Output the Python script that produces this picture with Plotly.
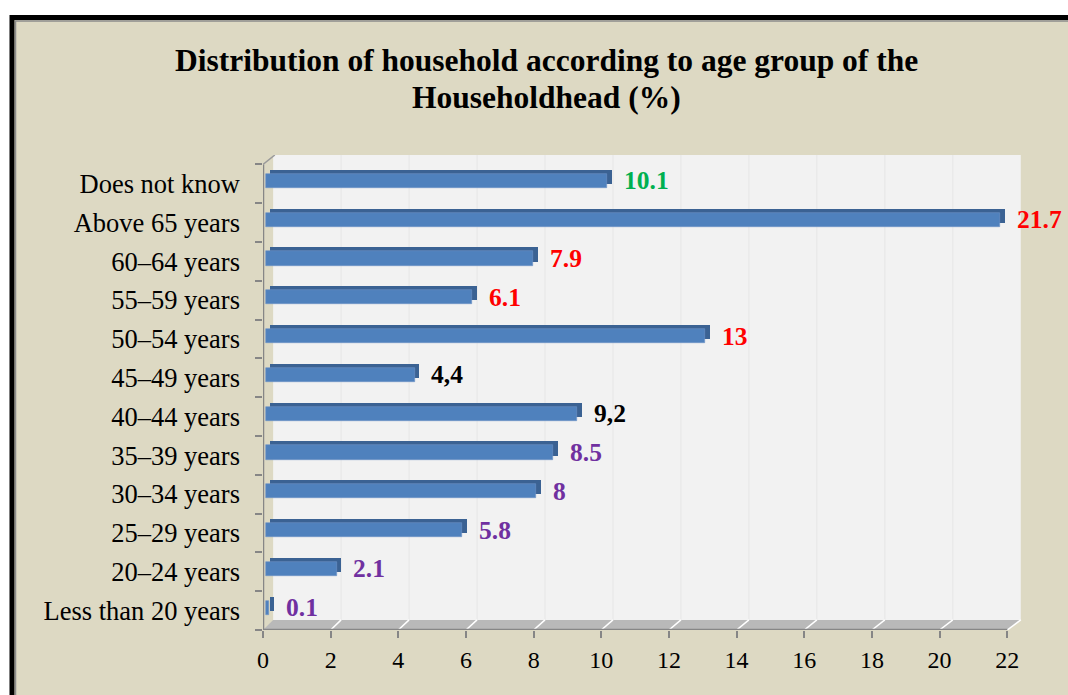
import plotly.graph_objects as go

# ---------------- data ----------------
categories = ["Less than 20 years", "20–24 years", "25–29 years", "30–34 years",
              "35–39 years", "40–44 years", "45–49 years", "50–54 years",
              "55–59 years", "60–64 years", "Above 65 years", "Does not know"]
values = [0.1, 2.1, 5.8, 8, 8.5, 9.2, 4.4, 13, 6.1, 7.9, 21.7, 10.1]
value_labels = ["0.1", "2.1", "5.8", "8", "8.5", "9,2", "4,4", "13", "6.1", "7.9", "21.7", "10.1"]
label_colors = ["#7030A0", "#7030A0", "#7030A0", "#7030A0", "#7030A0", "#000000",
                "#000000", "#FF0000", "#FF0000", "#FF0000", "#FF0000", "#00B050"]
x_ticks = [0, 2, 4, 6, 8, 10, 12, 14, 16, 18, 20, 22]
title_lines = ["Distribution of household according to age group of the",
               "Householdhead (%)"]

# ---------------- layout constants ----------------
W, H = 1068, 695
ML, MR, MT, MB = 263, 10, 155, 65
XR = [0, 23.5]
YR = [-0.5, 11.742]
BEIGE = "#DDD9C3"
FONT = "Liberation Serif"

positions = list(range(len(categories)))

# 3-D style parameters (in data units)
front_base = 0.08
depth_x = 0.14
depth_y = 0.103
bar_offset = -0.108
bar_width = 0.366

fig = go.Figure()

# dark back/top face
fig.add_trace(go.Bar(
    y=positions, x=values, base=[front_base + depth_x] * len(values),
    orientation="h", offset=bar_offset + depth_y, width=bar_width,
    marker=dict(color="#3B6293", line=dict(width=0)),
    hoverinfo="skip", showlegend=False))
# front face
fig.add_trace(go.Bar(
    y=positions, x=values, base=[front_base] * len(values),
    orientation="h", offset=bar_offset, width=bar_width,
    marker=dict(color="#4F81BD", line=dict(width=0.6, color="#6E94C8")),
    showlegend=False))

# value labels
for p, v, t, c in zip(positions, values, value_labels, label_colors):
    fig.add_annotation(x=v + front_base + depth_x, y=p + 0.075, text="<b>%s</b>" % t,
                       xanchor="left", yanchor="middle", xshift=10, showarrow=False,
                       font=dict(family=FONT, size=25.5, color=c))

# title (two centred lines)
for i, line in enumerate(title_lines):
    fig.add_annotation(xref="paper", yref="paper",
                       x=(546 - ML) / (W - ML - MR), y=(H - MB - (60 + 37 * i)) / (H - MT - MB),
                       text="<b>%s</b>" % line, xanchor="center", yanchor="middle",
                       showarrow=False, font=dict(family=FONT, size=31.5, color="#000000"))

shapes = []
pw = W - ML - MR
ph = H - MT - MB
def px_x(px):
    return (px - ML) / pw
def px_y(py):
    return (H - MB - py) / ph

# outer beige panel with black frame
shapes.append(dict(type="rect", xref="paper", yref="paper",
                   x0=px_x(12), x1=px_x(1120), y0=px_y(740), y1=px_y(17.5),
                   fillcolor=BEIGE, line=dict(color="#000000", width=5), layer="below"))
shapes.append(dict(type="rect", xref="paper", yref="paper",
                   x0=px_x(15.5), x1=px_x(1120), y0=px_y(740), y1=px_y(21),
                   fillcolor="rgba(0,0,0,0)", line=dict(color="#8C8C8C", width=1.5), layer="below"))

xmax = x_ticks[-1]
def dx(t):
    return 0.3 + 0.1 * t / xmax
floor_back = YR[0] + 0.26

# back wall
shapes.append(dict(type="rect", xref="x", yref="y", x0=dx(0), x1=xmax + dx(xmax),
                   y0=floor_back, y1=YR[1], fillcolor="#F2F2F2", line=dict(width=0), layer="below"))
for t in x_ticks[1:-1]:
    shapes.append(dict(type="line", xref="x", yref="y", x0=t + dx(t), x1=t + dx(t),
                       y0=floor_back, y1=YR[1], line=dict(color="#E6E6E6", width=1), layer="below"))
# floor
shapes.append(dict(type="path", xref="x", yref="y",
                   path="M %f,%f L %f,%f L %f,%f L %f,%f Z" % (
                       0, YR[0], xmax, YR[0], xmax + dx(xmax), floor_back, dx(0), floor_back),
                   fillcolor="#B9B9B9", line=dict(width=0), layer="below"))
for t in x_ticks[1:]:
    shapes.append(dict(type="line", xref="x", yref="y", x0=t, x1=t + dx(t),
                       y0=YR[0], y1=floor_back, line=dict(color="#FFFFFF", width=1.5), layer="below"))
# axis lines
shapes.append(dict(type="line", xref="x", yref="y", x0=0, x1=xmax, y0=YR[0], y1=YR[0],
                   line=dict(color="#868686", width=2.5), layer="above"))
shapes.append(dict(type="line", xref="x", yref="y", x0=0, x1=0, y0=YR[0], y1=len(categories) - 0.5,
                   line=dict(color="#868686", width=2.5), layer="above"))
shapes.append(dict(type="line", xref="x", yref="y", x0=0, x1=dx(0) + 0.05,
                   y0=len(categories) - 0.5, y1=YR[1], line=dict(color="#9A9A9A", width=1.5), layer="above"))

fig.update_layout(
    width=W, height=H, autosize=False,
    margin=dict(l=ML, r=MR, t=MT, b=MB, pad=0),
    paper_bgcolor="#FFFFFF", plot_bgcolor="rgba(0,0,0,0)",
    barmode="overlay", bargap=0,
    shapes=shapes,
    xaxis=dict(range=XR, tickvals=x_ticks, ticktext=[str(t) for t in x_ticks],
               ticks="outside", ticklen=7, tickwidth=2, tickcolor="#868686",
               showgrid=False, zeroline=False, showline=False, ticklabelstandoff=1,
               tickfont=dict(family=FONT, size=24, color="#000000")),
    yaxis=dict(range=YR, tickvals=positions, ticktext=categories, ticks="",
               showgrid=False, zeroline=False, showline=False, ticklabelstandoff=22,
               minor=dict(tick0=0.5, dtick=1, ticks="outside", ticklen=7, tickwidth=2,
                          tickcolor="#868686", showgrid=False),
               tickfont=dict(family=FONT, size=26.5, color="#000000")),
)

fig.write_html("out.html", config={"displayModeBar": False},
               post_script="document.body.style.margin='0px';")
